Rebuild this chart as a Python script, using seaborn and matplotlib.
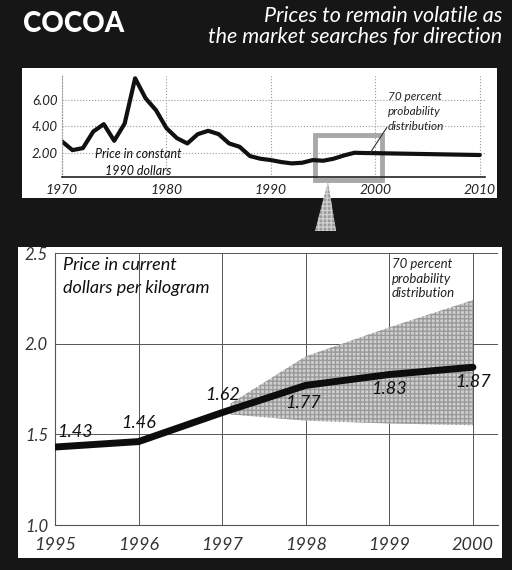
import pandas as pd
import matplotlib.pyplot as plt
import seaborn as sns
from matplotlib.patches import Rectangle, Polygon

# 数据: 1990年不变价格 (美元/公斤)
hist_years = [1970, 1971, 1972, 1973, 1974, 1975, 1976, 1977, 1978, 1979,
              1980, 1981, 1982, 1983, 1984, 1985, 1986, 1987, 1988, 1989,
              1990, 1991, 1992, 1993, 1994, 1995, 1996, 1997, 1998, 1999,
              2000, 2005, 2010]
hist_price = [2.85, 2.2, 2.35, 3.6, 4.15, 2.9, 4.2, 7.6, 6.1, 5.2,
              3.85, 3.1, 2.7, 3.4, 3.65, 3.4, 2.7, 2.45, 1.75, 1.55,
              1.45, 1.3, 1.2, 1.25, 1.45, 1.4, 1.55, 1.8, 2.0, 1.98,
              1.97, 1.9, 1.83]

# 数据: 当前价格 (美元/公斤)
cur_years = [1995, 1996, 1997, 1998, 1999, 2000]
cur_price = [1.43, 1.46, 1.62, 1.77, 1.83, 1.87]

# 70% 概率区间
band_years = [1997.1, 1998, 1999, 2000]
band_upper = [1.67, 1.93, 2.09, 2.24]
band_lower = [1.61, 1.575, 1.56, 1.55]

hist = pd.DataFrame({'year': hist_years, 'price': hist_price})
cur = pd.DataFrame({'year': cur_years, 'price': cur_price})

sns.set_style('white')
plt.rcParams['font.family'] = ['Lato', 'DejaVu Sans']

W, H = 512, 570
fig = plt.figure(figsize=(W / 100, H / 100), dpi=100)
fig.patch.set_facecolor('#161616')


def fbox(x0, y0, x1, y1):
    # 像素坐标 -> figure 坐标
    return (x0 / W, 1 - y1 / H), (x1 - x0) / W, (y1 - y0) / H


# 白色面板
for x0, y0, x1, y1 in [(22, 68, 497, 198), (18, 247, 502, 558)]:
    xy, w, h = fbox(x0, y0, x1, y1)
    fig.add_artist(Rectangle(xy, w, h, transform=fig.transFigure,
                             facecolor='white', edgecolor='none', zorder=0))

# 标题
fig.text(23 / W, 1 - 24 / H, 'COCOA', color='white', fontsize=20,
         fontweight='black', va='center', ha='left')
fig.text(502 / W, 1 - 16 / H, 'Prices to remain volatile as', color='white',
         fontsize=15.5, style='italic', ha='right', va='center')
fig.text(502 / W, 1 - 37 / H, 'the market searches for direction', color='white',
         fontsize=15.5, style='italic', ha='right', va='center')

# 上图: 历史价格
ax1 = fig.add_axes([62 / W, 1 - 176.7 / H, 423 / W, 102.4 / H])
ax1.set_facecolor('none')
sns.lineplot(data=hist, x='year', y='price', ax=ax1, color='#111111',
             linewidth=3, legend=False)
ax1.set_xlim(1970, 2010.5)
ax1.set_ylim(0.2, 7.9)
ax1.set_xticks([1970, 1980, 1990, 2000, 2010])
ax1.set_xticklabels(['1970', '1980', '1990', '2000', '2010'], style='italic', fontsize=10)
ax1.set_yticks([2, 4, 6])
ax1.set_yticklabels(['2.00', '4.00', '6.00'], style='italic', fontsize=9.5)
ax1.tick_params(length=0, pad=3, colors='#222222')
ax1.tick_params(axis='x', pad=5)
ax1.set_xlabel('')
ax1.set_ylabel('')
ax1.grid(True, color='#999999', linestyle=':', linewidth=0.8)
ax1.set_axisbelow(True)
for s in ['top', 'right']:
    ax1.spines[s].set_visible(False)
ax1.spines['bottom'].set_color('#222222')
ax1.spines['bottom'].set_linewidth(1.2)
ax1.spines['left'].set_color('#999999')
ax1.spines['left'].set_linestyle(':')
ax1.text(1977.3, 1.9, 'Price in constant', style='italic', fontsize=9,
         ha='center', va='center', color='#111111')
ax1.text(1977.3, 0.63, '1990 dollars', style='italic', fontsize=9,
         ha='center', va='center', color='#111111')
ax1.text(2001.2, 5.1, '70 percent\nprobability\ndistribution', style='italic',
         fontsize=8.5, ha='left', va='center', linespacing=1.4, color='#222222')
ax1.plot([1999.5, 2001.1], [1.98, 3.9], color='#333333', linewidth=0.8)
ax1.add_patch(Rectangle((1994.2, -0.05), 6.4, 3.39, facecolor='none',
                        edgecolor='#a8a8a8', linewidth=3.5, clip_on=False, zorder=1))

# 指向下图的三角
fig.add_artist(Polygon([(328 / W, 1 - 182 / H), (315 / W, 1 - 231 / H), (336 / W, 1 - 231 / H)],
                       closed=True, transform=fig.transFigure, facecolor='#9a9a9a',
                       edgecolor='#cfcfcf', hatch='++++', linewidth=0))

# 下图: 当前价格
ax2 = fig.add_axes([55 / W, 1 - 525 / H, 443 / W, 272 / H])
ax2.set_facecolor('none')
ax2.fill_between(band_years, band_lower, band_upper, facecolor='#d0d0d0',
                 edgecolor='#9a9a9a', hatch='++++', linewidth=0, zorder=1)
sns.lineplot(data=cur, x='year', y='price', ax=ax2, color='#0d0d0d',
             linewidth=5, legend=False, zorder=3)
ax2.set_xlim(1995, 2000.3)
ax2.set_ylim(1.0, 2.5)
ax2.set_xticks(cur_years)
ax2.set_xticklabels([str(y) for y in cur_years], style='italic', fontsize=13)
ax2.set_yticks([1.0, 1.5, 2.0, 2.5])
ax2.set_yticklabels(['1.0', '1.5', '2.0', '2.5'], style='italic', fontsize=12)
ax2.tick_params(length=0, colors='#333333')
ax2.tick_params(axis='y', pad=5)
ax2.tick_params(axis='x', pad=9)
ax2.set_xlabel('')
ax2.set_ylabel('')
ax2.grid(True, color='#555555', linewidth=0.7)
ax2.set_axisbelow(True)
for s in ['top', 'right']:
    ax2.spines[s].set_visible(False)
for s in ['left', 'bottom']:
    ax2.spines[s].set_color('#555555')
    ax2.spines[s].set_linewidth(0.8)

# 数值标注 (像素偏移, 向上为正)
offsets = [(20, 15), (0, 19), (0, 18), (-3, -18), (0, -15), (0, -15)]
for x, y, (dx, dy) in zip(cur_years, cur_price, offsets):
    ax2.annotate(f'{y:.2f}', (x, y), xytext=(dx, dy), textcoords='offset pixels',
                 ha='center', va='center', style='italic', fontsize=13,
                 color='#111111', zorder=4)

ax2.text(1995.1, 2.37, 'Price in current\ndollars per kilogram', style='italic',
         fontsize=13, ha='left', va='center', linespacing=1.5, color='#111111')
ax2.text(1999.03, 2.357, '70 percent\nprobability\ndistribution', style='italic',
         fontsize=9.5, ha='left', va='center', linespacing=1.25, color='#222222')

fig.savefig('out.png', dpi=100, facecolor=fig.get_facecolor())
